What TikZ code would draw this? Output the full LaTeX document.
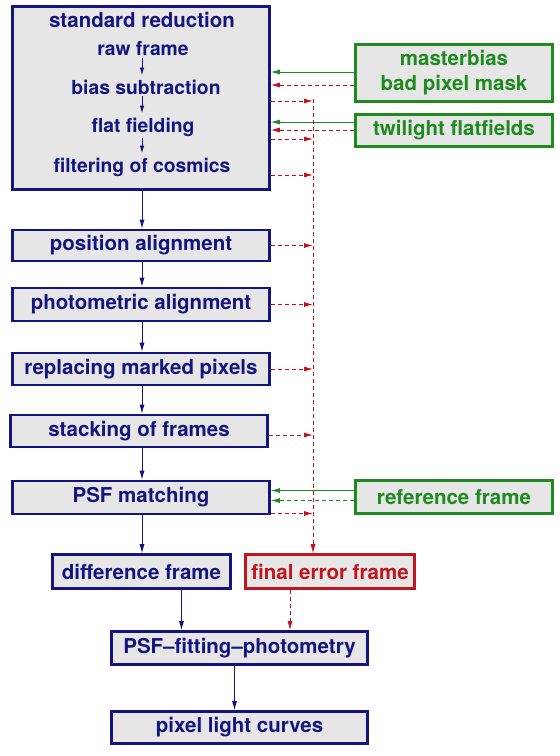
\documentclass[tikz,border=0pt]{standalone}
\usepackage{fontspec}
\setmainfont{TeX Gyre Heros}
\usetikzlibrary{arrows.meta,positioning,calc}
\definecolor{rdnavy}{HTML}{14147E}
\definecolor{rdgreen}{HTML}{1F8A1F}
\definecolor{rdred}{HTML}{C0141E}
\definecolor{rdfill}{HTML}{E6E6E6}
\tikzset{
  stage/.style={draw=rdnavy, fill=rdfill, line width=2.6pt, text=rdnavy, align=center,
                inner sep=0pt, font=\fontsize{20.5}{25}\selectfont\bfseries},
  calib/.style={stage, draw=rdgreen, text=rdgreen},
  errbox/.style={stage, draw=rdred, text=rdred},
  substep/.style={text=rdnavy, inner sep=2pt, font=\fontsize{19.3}{23}\selectfont\bfseries},
  flow/.style={-{Latex[length=9pt,width=5pt]}, draw=rdnavy, line width=0.9pt},
  subflow/.style={-{Latex[length=8pt,width=4.5pt]}, draw=rdnavy, line width=0.9pt, shorten >=2pt},
  feed/.style={-{Latex[length=9pt,width=5pt]}, draw=rdgreen, line width=0.9pt},
  feedx/.style={feed, dash pattern=on 4pt off 3pt},
  errflow/.style={-{Latex[length=9pt,width=5pt]}, draw=rdred, line width=0.8pt,
                  dash pattern=on 4pt off 3pt},
}

\begin{document}
\begin{tikzpicture}[x=1pt, y=-1pt]
  \useasboundingbox (0,0) rectangle (560,756);

  % standard reduction block
  \node[stage, minimum width=257pt, minimum height=183pt] (std) at (141,98) {};
  \node[substep, font=\fontsize{20.5}{25}\selectfont\bfseries] (stdtitle) at (142,20) {standard reduction};
  \node[substep] (raw) at (143,49) {raw frame};
  \node[substep] (bias) at (146,87) {bias subtraction};
  \node[substep] (flat) at (143,127) {flat fielding};
  \node[substep] (cosm) at (142,167) {filtering of cosmics};
  \draw[subflow] (raw.south -| 142,0) -- (bias.north -| 142,0);
  \draw[subflow] (bias.south -| 142,0) -- (flat.north -| 142,0);
  \draw[subflow] (flat.south -| 142,0) -- (cosm.north -| 142,0);

  % pipeline stages
  \node[stage, minimum width=257pt, minimum height=31pt] (posal) at (141,245.5) {position alignment};
  \node[stage, minimum width=257pt, minimum height=33pt] (photal) at (141,304.5) {photometric alignment};
  \node[stage, minimum width=257pt, minimum height=32pt] (repl) at (141,369) {replacing marked pixels};
  \node[stage, minimum width=257pt, minimum height=32pt] (stack) at (139,431) {stacking of frames};
  \node[stage, minimum width=257pt, minimum height=33pt] (psfm) at (141,497.5) {PSF matching};
  \node[stage, minimum width=178pt, minimum height=34pt] (diff) at (141.5,571.5) {difference frame};
  \node[errbox, minimum width=169pt, minimum height=34pt] (ferr) at (330,571.5) {final error frame};
  \node[stage, minimum width=256pt, minimum height=33pt] (fit) at (239.5,648) {PSF--fitting--photometry};
  \node[stage, minimum width=256pt, minimum height=32pt] (curves) at (239.5,727.5) {pixel light curves};

  % calibration inputs
  \node[calib, minimum width=197pt, minimum height=57pt] (mbias) at (454,73) {masterbias\\bad pixel mask};
  \node[calib, minimum width=197pt, minimum height=32pt] (twil) at (454,130.5) {twilight flatfields};
  \node[calib, minimum width=197pt, minimum height=33pt] (reff) at (454,497) {reference frame};

  \coordinate (bustop) at (313,99);

  % main flow
  \draw[flow] (std.south -| 142,0) -- (posal.north -| 142,0);
  \draw[flow] (posal.south -| 142,0) -- (photal.north -| 142,0);
  \draw[flow] (photal.south -| 142,0) -- (repl.north -| 142,0);
  \draw[flow] (repl.south -| 142,0) -- (stack.north -| 142,0);
  \draw[flow] (stack.south -| 142,0) -- (psfm.north -| 142,0);
  \draw[flow] (psfm.south -| 142,0) -- (diff.north -| 142,0);
  \draw[flow] ([xshift=40pt]diff.south) -- ([xshift=40pt]diff.south |- fit.north);
  \draw[flow] ([xshift=-5pt]fit.south) -- ([xshift=-5pt]fit.south |- curves.north);

  % calibration feeds
  \draw[feed] ([yshift=1pt]mbias.west) -- ([yshift=1pt]mbias.west -| std.east);
  \draw[errflow] ([yshift=-12pt]mbias.west) -- ([yshift=-12pt]mbias.west -| std.east);
  \draw[feed] ([yshift=8.5pt]twil.west) -- ([yshift=8.5pt]twil.west -| std.east);
  \draw[errflow] ([yshift=0.5pt]twil.west) -- ([yshift=0.5pt]twil.west -| std.east);
  \draw[feed] ([yshift=6.5pt]reff.west) -- ([yshift=6.5pt]reff.west -| psfm.east);
  \draw[feedx] ([yshift=-3.5pt]reff.west) -- ([yshift=-3.5pt]reff.west -| psfm.east);

  % error propagation
  \foreach \dy in {-3,-41,-77}
    \draw[errflow] ([yshift=\dy pt]std.east) -- ([yshift=\dy pt]std.east -| bustop);
  \foreach \stp/\dy in {posal/0, photal/0, repl/0, stack/-4, psfm/-16}
    \draw[errflow] ([yshift=\dy pt]\stp.east) -- ([yshift=\dy pt]\stp.east -| bustop);
  \draw[errflow] (bustop) -- (bustop |- ferr.north);
  \draw[errflow] ([xshift=-40pt]ferr.south) -- ([xshift=-40pt]ferr.south |- fit.north);
\end{tikzpicture}
\end{document}
